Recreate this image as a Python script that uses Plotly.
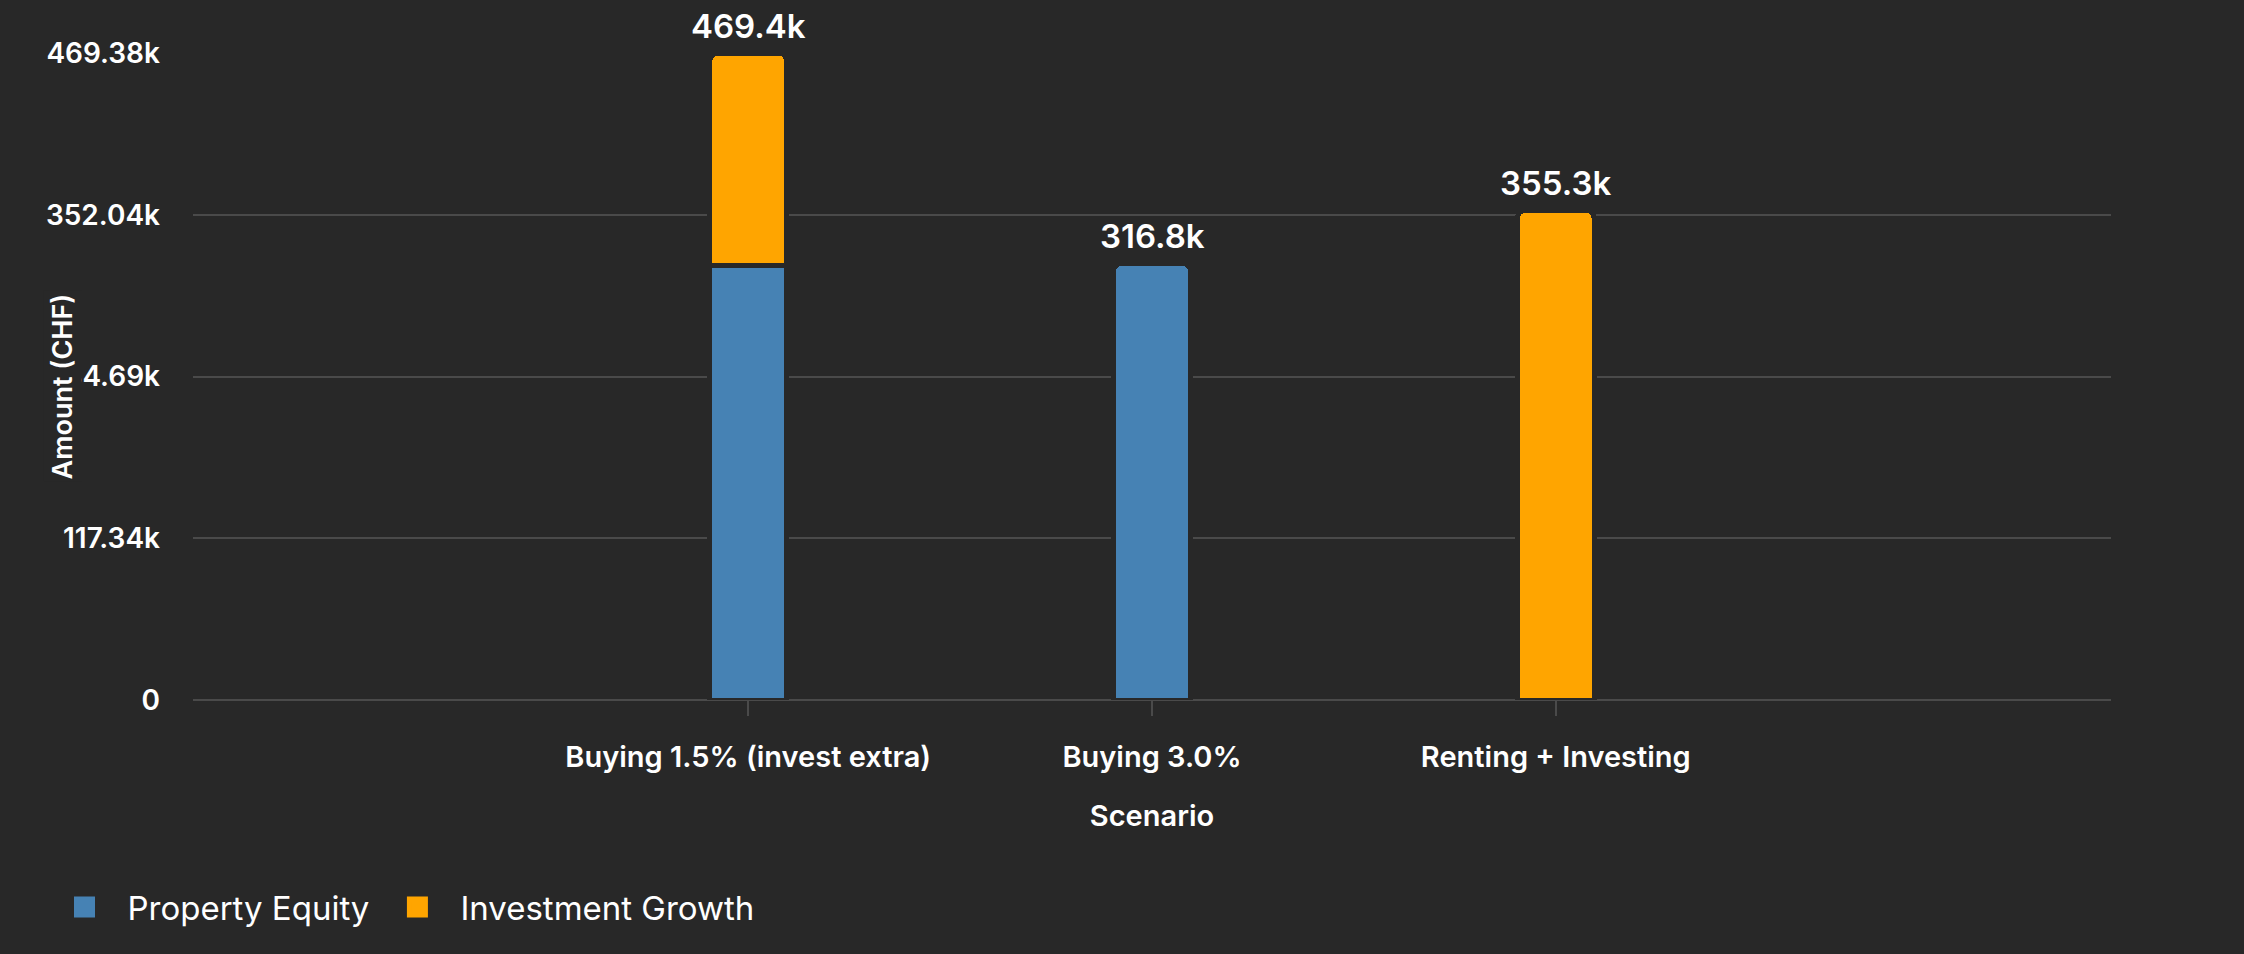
import numpy as np
import plotly.graph_objects as go

# values (CHF)
scenarios = ["Buying 1.5% (invest extra)", "Buying 3.0%", "Renting + Investing"]
property_equity = [314900, 316800, 0]
investment_growth = [154480, 0, 355300]
y_tick_labels = ["0", "117.34k", "234.69k", "352.04k", "469.38k"]

totals = [p + i for p, i in zip(property_equity, investment_growth)]
total_labels = [f"{t / 1000:.1f}k" for t in totals]
y_max = max(totals)

BG = "#282828"
GRID = "#4a4a4a"
BLUE = "#4682B4"
ORANGE = "#FFA500"
FONT = "Inter, Roboto, sans-serif"

fig = go.Figure()
# bars; the bg-coloured outline gives the small gap between stacked parts
fig.add_trace(go.Bar(
    x=scenarios, y=property_equity, name="Property Equity",
    marker=dict(color=BLUE, line=dict(color=BG, width=5)),
    width=0.19, showlegend=False
))
fig.add_trace(go.Bar(
    x=scenarios, y=investment_growth, name="Investment Growth",
    marker=dict(color=ORANGE, line=dict(color=BG, width=5)),
    width=0.19, showlegend=False
))
# legend entries with bigger square swatches
for name, col in [("Property Equity", BLUE), ("Investment Growth", ORANGE)]:
    fig.add_trace(go.Scatter(
        x=[None], y=[None], mode="markers", name=name,
        marker=dict(symbol="square", size=16, color=col,
                    line=dict(color=col, width=5))
    ))

# totals above the bars
for s, t, lab in zip(scenarios, totals, total_labels):
    fig.add_annotation(
        x=s, y=t, text=lab, showarrow=False, yanchor="bottom", yshift=5,
        font=dict(size=33, weight=600, color="white")
    )

fig.update_layout(
    width=2244, height=954,
    barmode="stack", barcornerradius=8,
    paper_bgcolor=BG, plot_bgcolor=BG,
    font=dict(family=FONT, color="white"),
    margin=dict(l=193, r=133, t=53, b=254),
    legend=dict(orientation="h", x=-0.079, y=-0.32, xanchor="left",
                yanchor="middle", font=dict(size=33), traceorder="normal",
                itemwidth=76),
)
fig.update_xaxes(
    range=[-1.375, 3.375], showgrid=False, ticks="outside", ticklen=15,
    tickwidth=2, tickcolor=GRID, showline=False, ticklabelstandoff=16,
    tickfont=dict(size=29, weight=600),
    title=dict(text="Scenario", font=dict(size=29, weight=600), standoff=32)
)
fig.update_yaxes(
    range=[0, y_max], tickvals=np.linspace(0, y_max, 5), ticktext=y_tick_labels,
    showgrid=True, gridcolor=GRID, gridwidth=2, zeroline=True,
    zerolinecolor=GRID, zerolinewidth=2, ticklabelstandoff=32,
    tickfont=dict(size=28, weight=600)
)
# y title sits over the tick labels, like in the original
fig.add_annotation(
    text="Amount (CHF)", textangle=-90, xref="paper", yref="paper",
    x=-0.068, y=0.484, xanchor="center", yanchor="middle", showarrow=False,
    bgcolor=BG, borderpad=2,
    font=dict(size=27, weight=600, color="white")
)

fig.write_html("out.html", config={"displayModeBar": False},
               post_script="document.body.style.margin='0';"
                           "document.body.style.background='#282828';")
